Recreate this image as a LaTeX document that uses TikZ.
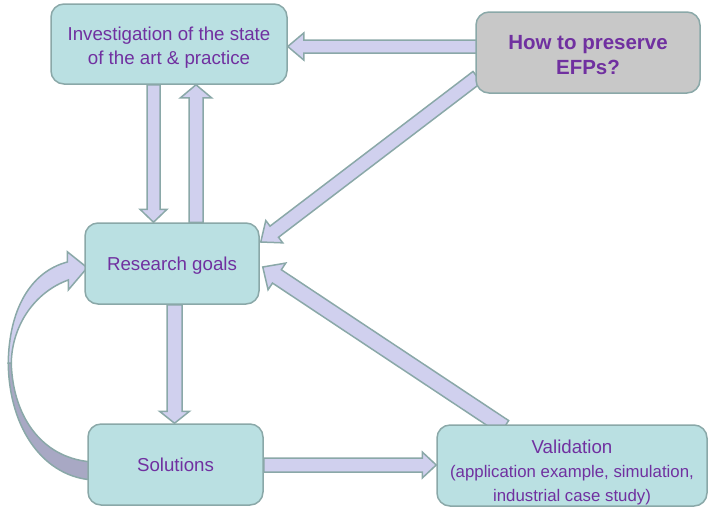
\documentclass[tikz,border=0pt]{standalone}
\usepackage{fontspec}
\setmainfont{Liberation Sans}
\usetikzlibrary{calc,backgrounds}

\definecolor{boxfill}{HTML}{BAE0E2}
\definecolor{boxline}{HTML}{8AA8A8}
\definecolor{qfill}{HTML}{C8C8C8}
\definecolor{arrowfill}{HTML}{D0D0EE}
\definecolor{arrowshade}{HTML}{A8A8C4}
\definecolor{txt}{HTML}{7030A0}

\tikzset{
  stagebox/.style={draw=boxline, fill=boxfill, line width=1.5pt, rounded corners=13pt,
    inner sep=0pt, text=txt, align=center, text depth=0pt, font=\fontsize{18.7}{24}\selectfont},
  questionbox/.style={stagebox, fill=qfill, font=\fontsize{20.5}{25}\selectfont\bfseries},
  flowarrow/.style={draw=boxline, fill=arrowfill, line width=1.5pt, line join=miter},
}

% block arrow: [style] start, tip, shaft half width, head half width, head length
\newcommand{\blockarrow}[6][]{%
  \coordinate (bas) at (#2);
  \coordinate (bae) at (#3);
  \coordinate (bah) at ($(bae)!#6!(bas)$);
  \draw[flowarrow,#1] ($(bas)!#4!90:(bae)$) -- ($(bah)!#4!90:(bae)$) -- ($(bah)!#5!90:(bae)$)
    -- (bae) -- ($(bah)!#5!-90:(bae)$) -- ($(bah)!#4!-90:(bae)$) -- ($(bas)!#4!-90:(bae)$) -- cycle;
}
% invisible strut that lowers a text block inside its box
\newcommand{\topstrut}[1]{\rule{0pt}{#1}}

\begin{document}
\begin{tikzpicture}[x=1pt,y=-1pt]
\useasboundingbox (0,0) rectangle (708,507);

% stages
\node[stagebox, minimum width=236pt, minimum height=80pt] (inv) at (169,44)
  {\topstrut{17.5pt}Investigation of the state\\of the art \& practice};
\node[questionbox, minimum width=224pt, minimum height=81pt] (how) at (588,52.5)
  {\topstrut{18pt}How to preserve\\EFPs?};
\node[stagebox, minimum width=174pt, minimum height=81pt] (res) at (172,263.5)
  {Research goals};
\node[stagebox, minimum width=175pt, minimum height=81pt] (sol) at (175.5,464.5)
  {Solutions};
\node[stagebox, minimum width=270pt, minimum height=81pt] (val) at (572,465.5)
  {\topstrut{24pt}Validation\\\fontsize{16.8}{22.5}\selectfont(application example, simulation,\\\fontsize{16.8}{22.5}\selectfont industrial case study)};

\begin{scope}[on background layer]
  % question -> investigation
  \coordinate (a1) at ($(how.west)+(2,-6)$);
  \blockarrow{a1}{a1 -| inv.east}{6.5pt}{13.5pt}{16pt}
  % investigation -> research goals
  \coordinate (a2) at ($(inv.south)+(-15.5,0)$);
  \blockarrow{a2}{a2 |- res.north}{6.5pt}{13.5pt}{13pt}
  % research goals -> investigation
  \coordinate (a3) at ($(res.north)+(24,0)$);
  \blockarrow{a3}{a3 |- inv.south}{7pt}{15.5pt}{13pt}
  % question -> research goals
  \blockarrow{$(how.west)+(2,24.5)$}{$(res.east)+(1,-21.5)$}{7pt}{14pt}{17pt}
  % research goals -> solutions
  \coordinate (a5) at ($(res.south)+(2.5,0)$);
  \blockarrow{a5}{a5 |- sol.north}{7.5pt}{15pt}{12pt}
  % solutions -> validation
  \coordinate (a6) at ($(sol.east)+(0,0.5)$);
  \blockarrow{a6}{a6 -| val.west}{7pt}{13pt}{14pt}
  % validation -> research goals
  \blockarrow{$(val.north west)+(68,3)$}{$(res.east)+(3,3.5)$}{8pt}{16pt}{17pt}

  % curved feedback: solutions -> research goals (shaded back part)
  \draw[flowarrow, fill=arrowshade] ($(res.west)+(-76,99.5)$)
    .. controls (9,430) and (45,478) .. ($(sol.west)+(7,15.5)$)
    -- ($(sol.west)+(7,-2.5)$)
    .. controls (45,460) and (13,420) .. ($(res.west)+(-73,99.5)$) -- cycle;
  % curved feedback: front part with head
  \draw[flowarrow] ($(res.west)+(-76,99.5)$)
    .. controls (9,310) and (30,272) .. ($(res.west)+(-17,-1.5)$)
    -- ($(res.west)+(-17,-11.8)$) -- ($(res.west)+(3,4.2)$)
    -- ($(res.west)+(-16,26.5)$) -- ($(res.west)+(-16,16.5)$)
    .. controls (35,292) and (12,325) .. ($(res.west)+(-73,99.5)$) -- cycle;
\end{scope}
\end{tikzpicture}
\end{document}
